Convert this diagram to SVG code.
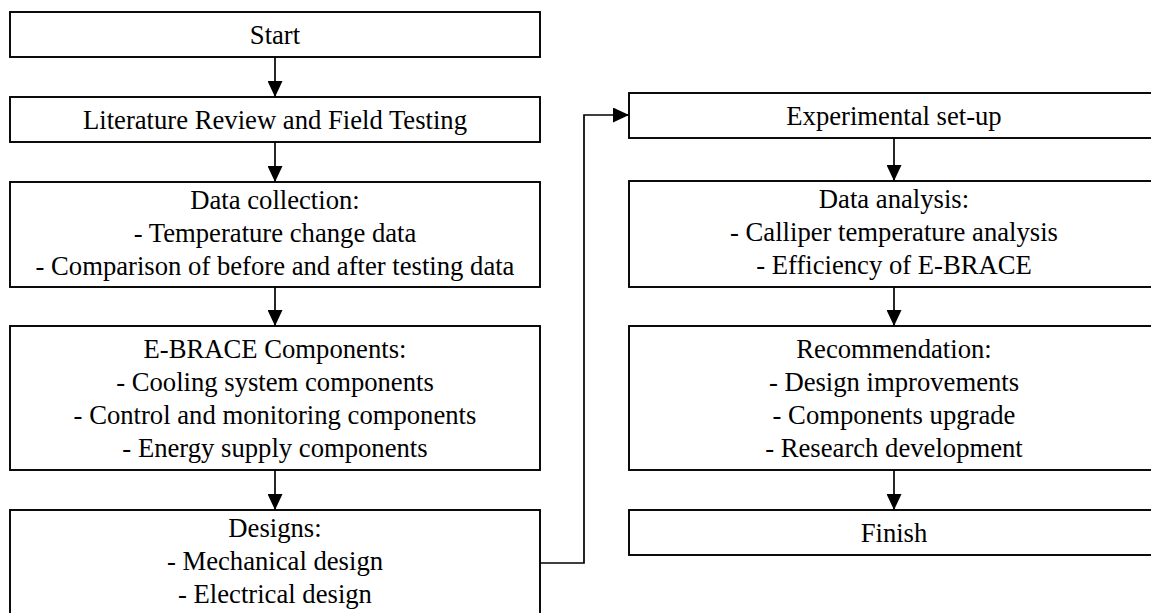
<svg xmlns="http://www.w3.org/2000/svg" width="1151" height="613" viewBox="0 0 1151 613">
<defs>
<style>
.box{fill:#fff;stroke:#000;stroke-width:1.9}
.t{font-family:"Liberation Serif","Times New Roman",serif;font-size:26.67px;fill:#000;text-anchor:middle}
.c{fill:none;stroke:#000;stroke-width:1.7}
</style>
<marker id="ah" markerWidth="16" markerHeight="15" refX="16" refY="7.5" orient="auto" markerUnits="userSpaceOnUse">
<path d="M0,0 L16,7.5 L0,15 Z" fill="#000"/>
</marker>
</defs>
<rect width="1151" height="613" fill="#fff"/>
<g id="connectors">
<line class="c" x1="275" y1="57" x2="275" y2="97" marker-end="url(#ah)"/>
<line class="c" x1="275" y1="142" x2="275" y2="182" marker-end="url(#ah)"/>
<line class="c" x1="275" y1="287" x2="275" y2="326" marker-end="url(#ah)"/>
<line class="c" x1="275" y1="470" x2="275" y2="510" marker-end="url(#ah)"/>
<polyline class="c" points="540,563 584,563 584,115 629,115" marker-end="url(#ah)"/>
<line class="c" x1="894" y1="138" x2="894" y2="181" marker-end="url(#ah)"/>
<line class="c" x1="894" y1="287" x2="894" y2="326" marker-end="url(#ah)"/>
<line class="c" x1="894" y1="470" x2="894" y2="510" marker-end="url(#ah)"/>
</g>
<g id="start">
<rect class="box" x="10" y="12" width="530" height="45"/>
<text class="t" x="275" y="43.5">Start</text>
</g>
<g id="literature">
<rect class="box" x="10" y="97" width="530" height="45"/>
<text class="t" x="275" y="128.5">Literature Review and Field Testing</text>
</g>
<g id="data-collection">
<rect class="box" x="10" y="182" width="530" height="105"/>
<text class="t" x="275" y="209">Data collection:</text>
<text class="t" x="275" y="242">- Temperature change data</text>
<text class="t" x="275" y="275">- Comparison of before and after testing data</text>
</g>
<g id="ebrace">
<rect class="box" x="10" y="326" width="530" height="144"/>
<text class="t" x="275" y="357.5">E-BRACE Components:</text>
<text class="t" x="275" y="390.5">- Cooling system components</text>
<text class="t" x="275" y="423.5">- Control and monitoring components</text>
<text class="t" x="275" y="456.5">- Energy supply components</text>
</g>
<g id="designs">
<rect class="box" x="10" y="510" width="530" height="106"/>
<text class="t" x="275" y="537">Designs:</text>
<text class="t" x="275" y="570">- Mechanical design</text>
<text class="t" x="275" y="603">- Electrical design</text>
</g>
<g id="experimental">
<rect class="box" x="629" y="93" width="530" height="45"/>
<text class="t" x="894" y="124.5">Experimental set-up</text>
</g>
<g id="data-analysis">
<rect class="box" x="629" y="181" width="530" height="106"/>
<text class="t" x="894" y="208">Data analysis:</text>
<text class="t" x="894" y="241">- Calliper temperature analysis</text>
<text class="t" x="894" y="274">- Efficiency of E-BRACE</text>
</g>
<g id="recommendation">
<rect class="box" x="629" y="326" width="530" height="144"/>
<text class="t" x="894" y="357.5">Recommendation:</text>
<text class="t" x="894" y="390.5">- Design improvements</text>
<text class="t" x="894" y="423.5">- Components upgrade</text>
<text class="t" x="894" y="456.5">- Research development</text>
</g>
<g id="finish">
<rect class="box" x="629" y="510" width="530" height="45"/>
<text class="t" x="894" y="541.5">Finish</text>
</g>
</svg>
